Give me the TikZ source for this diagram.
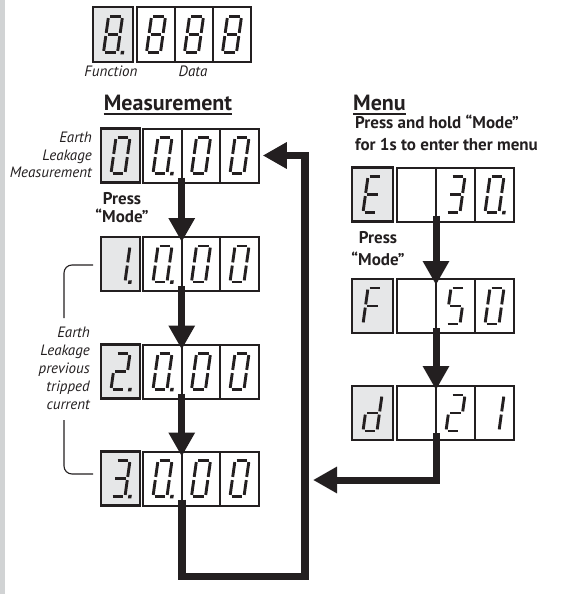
\documentclass[tikz,border=0pt]{standalone}
\usepackage{fontspec}
\setmainfont{PT Sans}
\usetikzlibrary{arrows.meta}
\definecolor{ink}{HTML}{231F20}
\definecolor{fgrey}{HTML}{E6E7E8}
\definecolor{stripgrey}{HTML}{D1D3D4}
\tikzset{
  seg/.style={draw=ink, line width=2.9pt, line cap=butt},
  fbox/.style={draw=ink, fill=fgrey, line width=2.2pt, minimum width=39pt, minimum height=54pt, inner sep=0pt, outer sep=0pt},
  dbox/.style={draw=ink, fill=white, line width=2pt, minimum width=38.5pt, minimum height=54pt, inner sep=0pt, outer sep=0pt},
  lab/.style={text=ink, inner sep=0pt, font=\fontsize{15}{17.5}\selectfont\itshape},
  boldlab/.style={text=ink, inner sep=0pt, font=\fontsize{17}{18}\selectfont\bfseries},
  titlelab/.style={text=ink, inner sep=0pt, font=\fontsize{22}{24}\selectfont\bfseries},
  bigarrow/.style={draw=ink, line width=7pt, -{Triangle[width=25pt,length=24pt]}},
  loopline/.style={draw=ink, line width=7.5pt},
  bracket/.style={draw=ink, line width=1.1pt, rounded corners=8pt}
}
\newcommand\segline[4]{\draw[seg] (#1,#2) -- (#3,#4);}
\def\sga{\segline{-5.4}{-18}{5.4}{-18}}
\def\sgb{\segline{7}{-16.4}{7}{-1.6}}
\def\sgc{\segline{7}{1.6}{7}{16.4}}
\def\sgd{\segline{-5.4}{18}{5.4}{18}}
\def\sge{\segline{-7}{1.6}{-7}{16.4}}
\def\sgf{\segline{-7}{-16.4}{-7}{-1.6}}
\def\sgg{\segline{-5.4}{0}{5.4}{0}}
\def\sgp{\fill[ink] (10.2,16.4) rectangle (13.6,19.8);}
\newcommand\digit[2]{%
  \begin{scope}[shift={(#1.center)},xslant=0.14]
    \foreach \s in {#2}{\csname sg\s\endcsname}
  \end{scope}}
\begin{document}
\begin{tikzpicture}[x=1pt,y=-1pt]
\useasboundingbox (0,0) rectangle (561,594);
\fill[stripgrey] (0,0) rectangle (5,594);

% ---- top legend display
\node[fbox, minimum width=40pt, minimum height=55pt] (tf) at (113,34.5) {};
\node[dbox, minimum width=38pt, minimum height=55pt] (td1) at (156,34.5) {};
\node[dbox, minimum width=38pt, minimum height=55pt] (td2) at (194,34.5) {};
\node[dbox, minimum width=38pt, minimum height=55pt] (td3) at (232,34.5) {};
\digit{tf}{a,b,c,d,e,f,g,p}
\digit{td1}{a,b,c,d,e,f,g}
\digit{td2}{a,b,c,d,e,f,g}
\digit{td3}{a,b,c,d,e,f,g}
\node[lab, anchor=base] (lfun) at (111,76) {Function};
\node[lab, anchor=base] (ldata) at (193,76) {Data};

% ---- titles
\node[titlelab, anchor=base] (mtitle) at (168,110.5) {Measurement};
\draw[ink, line width=1.6pt] ([yshift=-3.5pt]mtitle.base west) -- ([yshift=-3.5pt]mtitle.base east);
\node[titlelab, anchor=base west] (menutitle) at (353,110.5) {Menu};
\draw[ink, line width=1.6pt] ([yshift=-3.5pt]menutitle.base west) -- ([yshift=-3.5pt]menutitle.base east);
\node[boldlab, anchor=base west] (hold1) at (355,128) {Press and hold “Mode”};
\node[boldlab, anchor=base west] (hold2) at (355,150) {for 1s to enter ther menu};

% ---- measurement rows
\foreach \r/\y in {0/155.5,1/264,2/371.5,3/478.5}{
  \node[fbox] (m\r f) at (120.5,\y) {};
  \node[dbox] (m\r d1) at (162.5,\y) {};
  \node[dbox] (m\r d2) at (201,\y) {};
  \node[dbox] (m\r d3) at (239.5,\y) {};
}
\digit{m0f}{a,b,c,d,e,f}
\digit{m1f}{b,c,p}
\digit{m2f}{a,b,g,e,d,p}
\digit{m3f}{a,b,g,c,d,p}
\foreach \r in {0,1,2,3}{
  \digit{m\r d1}{a,b,c,d,e,f,p}
  \digit{m\r d2}{a,b,c,d,e,f}
  \digit{m\r d3}{a,b,c,d,e,f}
}

% ---- menu rows
\foreach \r/\y in {e/194.5,f/306,d/413}{
  \node[fbox, minimum width=41pt] (n\r f) at (372.5,\y) {};
  \node[dbox, minimum width=39pt] (n\r d1) at (416.5,\y) {};
  \node[dbox, minimum width=39pt] (n\r d2) at (455.5,\y) {};
  \node[dbox, minimum width=39pt] (n\r d3) at (494.5,\y) {};
}
\digit{nef}{a,f,g,e,d}
\digit{ned2}{a,b,g,c,d}
\digit{ned3}{a,b,c,d,e,f,p}
\digit{nff}{a,f,g,e}
\digit{nfd2}{a,f,g,c,d}
\digit{nfd3}{a,b,c,d,e,f}
\digit{ndf}{b,c,d,e,g}
\digit{ndd2}{a,b,g,e,d}
\digit{ndd3}{b,c}

% ---- side labels
\node[lab, align=right, anchor=north east] (lmeas) at (92,132) {Earth\\Leakage\\Measurement};
\node[lab, align=right, anchor=north east, font=\fontsize{15}{18}\selectfont\itshape] (lprev) at (90,327) {Earth\\Leakage\\previous\\tripped\\current};
\node[boldlab, align=center, anchor=north, font=\fontsize{17}{18.5}\selectfont\bfseries] (press1) at (122,192) {Press\\“Mode”};
\node[boldlab, align=center, anchor=north, font=\fontsize{17}{22.5}\selectfont\bfseries] (press2) at (378,231) {Press\\“Mode”};

% ---- bracket
\draw[bracket] ([xshift=-8pt]m1f.west |- 0,265) -- (64,265) -- (64,318);
\draw[bracket] (64,420) -- (64,474) -- ([xshift=-8pt]m3f.west |- 0,474);

% ---- arrows
\draw[bigarrow] ([yshift=5pt]m0d1.south east) -- ([yshift=-5pt]m1d1.north east);
\draw[bigarrow] ([yshift=5pt]m1d1.south east) -- ([yshift=-5pt]m2d1.north east);
\draw[bigarrow] ([yshift=5pt]m2d1.south east) -- ([yshift=-5pt]m3d1.north east);
\draw[bigarrow] ([yshift=6pt]ned1.south east) -- ([yshift=-6pt]nfd1.north east);
\draw[bigarrow] ([yshift=5pt]nfd1.south east) -- ([yshift=-4pt]ndd1.north east);
\coordinate (looptop) at (305,155.5);
\coordinate (loopin) at (313,480);
\draw[bigarrow] ([yshift=7pt]ndd1.south east) |- (loopin);
\draw[loopline, line join=miter] ([yshift=6pt]m3d1.south east) -- ++(0,77) -| (looptop) -- ([xshift=14pt]m0d3.east);
\draw[bigarrow] ([xshift=15pt]m0d3.east) -- ([xshift=4pt]m0d3.east);
\end{tikzpicture}
\end{document}
